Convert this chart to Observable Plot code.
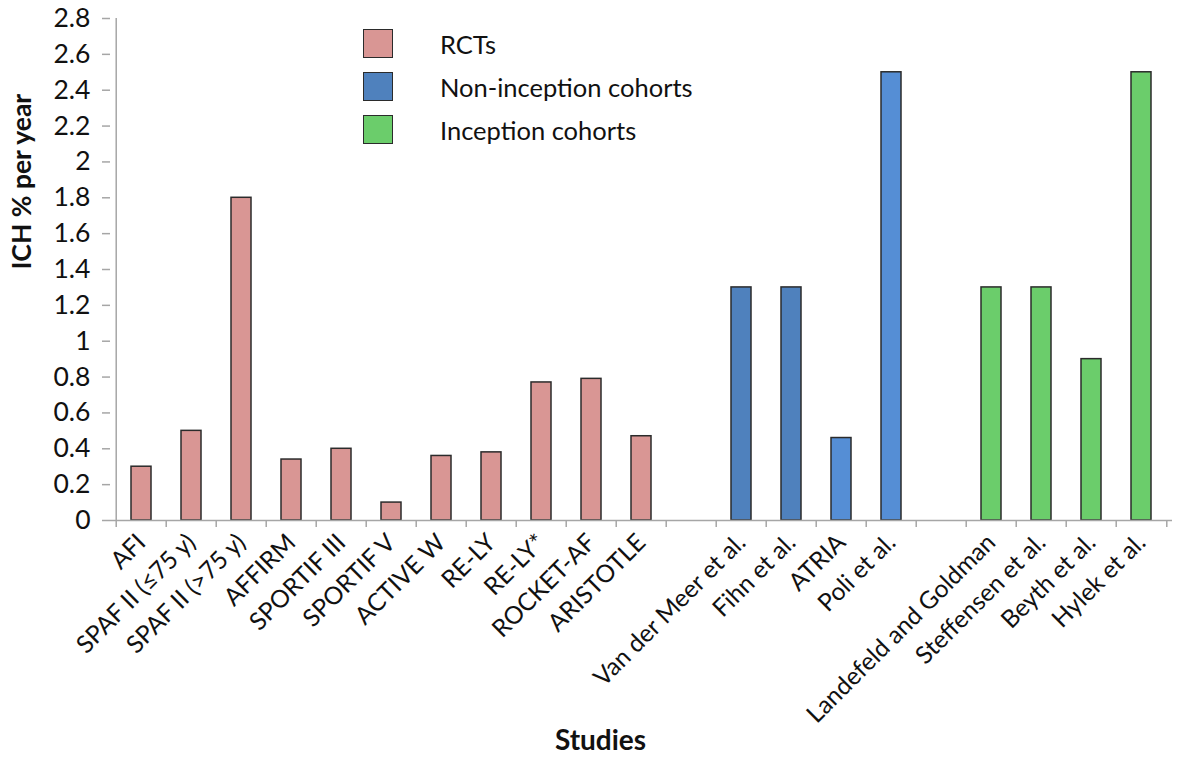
<!DOCTYPE html>
<html>
<head>
<meta charset="utf-8">
<script src="https://cdn.jsdelivr.net/npm/d3@7"></script>
<script src="https://cdn.jsdelivr.net/npm/@observablehq/plot@0.6"></script>
<style>
  html, body { margin: 0; padding: 0; background: #fff; }
  #wrap { position: relative; width: 1180px; height: 766px; font-family: Lato, "Open Sans", sans-serif; }
  #legend { position: absolute; left: 363px; top: 29px; }
  .row { display: flex; align-items: center; height: 29px; margin-bottom: 14px; }
  .sw { width: 30px; height: 29px; border: 1.5px solid #2b2b2b; box-sizing: border-box; }
  .lab { margin-left: 47px; font-size: 25.5px; color: #111; }
</style>
</head>
<body>
<div id="wrap"><div id="legend"></div></div>
<script>
// ---- data ----
const studies = [
  "AFI", "SPAF II (≤75 y)", "SPAF II (>75 y)", "AFFIRM", "SPORTIF III", "SPORTIF V",
  "ACTIVE W", "RE-LY", "RE-LY*", "ROCKET-AF", "ARISTOTLE",
  "Van der Meer et al.", "Fihn et al.", "ATRIA", "Poli et al.",
  "Landefeld and Goldman", "Steffensen et al.", "Beyth et al.", "Hylek et al."
];
const values = [
  0.30, 0.50, 1.80, 0.34, 0.40, 0.10, 0.36, 0.38, 0.77, 0.79, 0.47,
  1.30, 1.30, 0.46, 2.50,
  1.30, 1.30, 0.90, 2.50
];
const groups = [
  "RCTs", "RCTs", "RCTs", "RCTs", "RCTs", "RCTs", "RCTs", "RCTs", "RCTs", "RCTs", "RCTs",
  "Non-inception cohorts", "Non-inception cohorts", "Non-inception cohorts", "Non-inception cohorts",
  "Inception cohorts", "Inception cohorts", "Inception cohorts", "Inception cohorts"
];
const groupNames = ["RCTs", "Non-inception cohorts", "Inception cohorts"];
const gapSlots = ["gap1", "gap2"];
const yTicks = [0, 0.2, 0.4, 0.6, 0.8, 1, 1.2, 1.4, 1.6, 1.8, 2, 2.2, 2.4, 2.6, 2.8];

// ---- styles ----
const groupColors = {"RCTs": "#d99694", "Non-inception cohorts": "#4f81bd", "Inception cohorts": "#6bcd6b"};
const shadeOverride = {"ATRIA": "#558ed5", "Poli et al.": "#558ed5"};
const axisGray = "#a6a6a6";

const rows = studies.map((s, i) => ({study: s, value: values[i], group: groups[i]}));
const domain = [
  ...studies.filter((s, i) => groups[i] === groupNames[0]), gapSlots[0],
  ...studies.filter((s, i) => groups[i] === groupNames[1]), gapSlots[1],
  ...studies.filter((s, i) => groups[i] === groupNames[2])
];

const W = 1180, H = 766, mL = 110, mR = 8, mT = 18, mB = 246;
const step = (W - mL - mR) / domain.length;
const fmtY = d => String(+d.toFixed(1));
const fmtX = d => gapSlots.includes(d) ? "" : d;

const chart = Plot.plot({
  width: W, height: H,
  marginLeft: mL, marginRight: mR, marginTop: mT, marginBottom: mB,
  style: {fontFamily: "Lato, 'Open Sans', sans-serif", color: "#111", background: "transparent"},
  x: {domain, paddingInner: 0.6, paddingOuter: 0.3, label: null},
  y: {domain: [0, 2.8], label: null},
  color: {type: "identity"},
  marks: [
    Plot.barY(rows, {
      x: "study", y: "value",
      fill: d => shadeOverride[d.study] || groupColors[d.group],
      stroke: "#2b2b2b", strokeWidth: 1.5
    }),
    Plot.ruleY([0], {stroke: axisGray, strokeWidth: 1.5}),
    Plot.ruleX([domain[0]], {dx: -step / 2, y1: 0, y2: 2.8, stroke: axisGray, strokeWidth: 1.5}),
    Plot.axisY({ticks: yTicks, tickFormat: fmtY, tickSize: 8, tickPadding: 12, fontSize: 26.5, stroke: axisGray, strokeWidth: 1.5, label: null}),
    Plot.axisX({tickSize: 7, tickFormat: () => "", dx: -step / 2, stroke: axisGray, strokeWidth: 1.5, label: null}),
    Plot.axisX([domain[domain.length - 1]], {tickSize: 7, tickFormat: () => "", dx: step / 2, stroke: axisGray, strokeWidth: 1.5, label: null}),
    Plot.axisX({tickSize: 0, tickPadding: 18, tickRotate: -45, tickFormat: fmtX, fontSize: 24.5, label: null}),
    Plot.text(["ICH % per year"], {frameAnchor: "left", rotate: -90, dx: -88, fontSize: 26.5, fontWeight: "bold"}),
    Plot.text(["Studies"], {frameAnchor: "bottom", dy: 229, dx: -41, fontSize: 28, fontWeight: "bold"})
  ]
});
const wrap = document.getElementById("wrap");
wrap.insertBefore(chart, wrap.firstChild);

const legend = document.getElementById("legend");
groupNames.forEach(g => {
  const r = document.createElement("div");
  r.className = "row";
  r.innerHTML = `<div class="sw" style="background:${groupColors[g]}"></div><div class="lab">${g}</div>`;
  legend.appendChild(r);
});
</script>
</body>
</html>
